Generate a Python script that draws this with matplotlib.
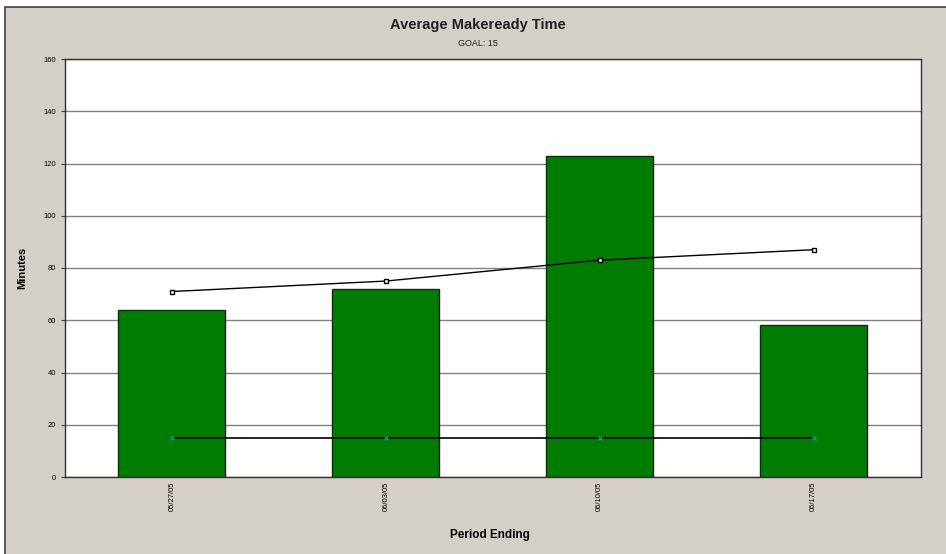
import matplotlib
matplotlib.use("Agg")
import matplotlib.pyplot as plt
from matplotlib.patches import Rectangle

plt.rcParams['font.family'] = ['Liberation Sans', 'DejaVu Sans']

periods = ["05/27/05", "06/03/05", "06/10/05", "06/17/05"]
makeready = [64, 72, 123, 58]
trend = [71, 75, 83, 87]
goal = [15, 15, 15, 15]

W, H = 946, 554
fig = plt.figure(figsize=(W / 100, H / 100), dpi=100)
fig.patch.set_facecolor("white")

# grey panel with dark border (runs off the right and bottom edges)
fig.patches.append(Rectangle((5 / W, -0.05), 1.2, 1 - 7 / H + 0.05, transform=fig.transFigure,
                             facecolor="#D4D0C8", edgecolor="#404040", lw=1.2, zorder=-10))

ax = fig.add_axes([65 / W, (H - 477) / H, (920.5 - 65) / W, (477 - 59) / H])
ax.set_facecolor("white")

x = range(len(periods))
ax.bar(x, makeready, width=0.5, color="#007D00", edgecolor="#202020", lw=1, zorder=3)
ax.plot(x, trend, color="black", lw=1, marker="s", ms=3.5, mfc="white", mec="black", mew=1, zorder=4)
ax.plot(x, goal, color="black", lw=1.2, zorder=4)
ax.plot(x, goal, ls="none", marker="x", ms=3.5, mec="#00A0A0", mew=0.9, zorder=5)

ax.set_xlim(-0.5, len(periods) - 0.5)
ax.set_ylim(0, 160)
ax.set_yticks(range(0, 161, 20))
ax.yaxis.grid(True, color="#808080", lw=1)
ax.set_axisbelow(True)
ax.set_xticks(list(x))
ax.set_xticklabels(periods, rotation=90, fontsize=5.5, va="top")
ax.tick_params(axis="y", labelsize=5.5, length=3, width=0.8, color="#404040")
ax.tick_params(axis="x", length=0, pad=3)
for s in ax.spines.values():
    s.set_color("#303030")
    s.set_linewidth(1)

ax.set_ylabel("Minutes", fontsize=8, fontweight="bold")
ax.yaxis.set_label_coords(-38 / (920.5 - 65), 0.5)
fig.text(490 / W, 1 - 535 / H, "Period Ending", ha="center", va="center", fontsize=8.5, fontweight="bold")
fig.text(478 / W, 1 - 25 / H, "Average Makeready Time", ha="center", va="center", fontsize=10.5, fontweight="bold", color="#202020")
fig.text(478 / W, 1 - 44 / H, "GOAL: 15", ha="center", va="center", fontsize=6.5, color="#202020")

fig.savefig("out.png", dpi=100)
